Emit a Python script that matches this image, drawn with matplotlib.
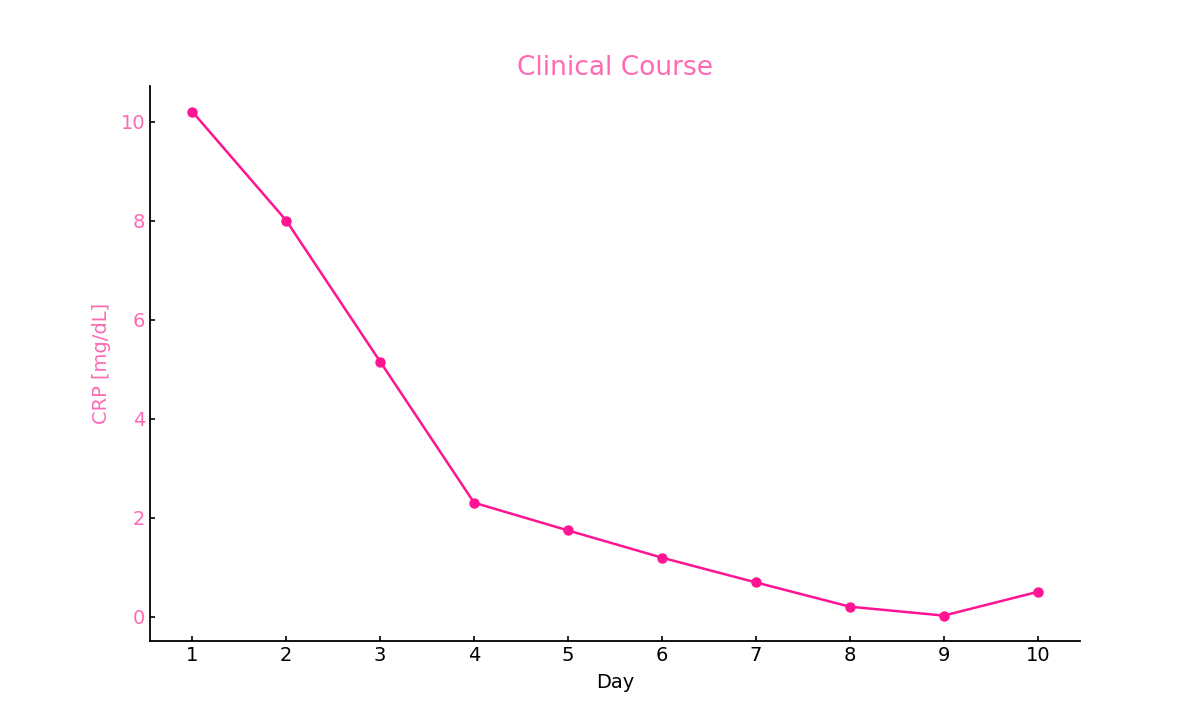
import matplotlib
matplotlib.use("Agg")
import matplotlib.pyplot as plt

# 日ごとのCRP値
days = [1, 2, 3, 4, 5, 6, 7, 8, 9, 10]
crp = [10.2, 8.0, 5.15, 2.3, 1.74, 1.19, 0.69, 0.2, 0.02, 0.5]

plt.rcParams['font.family'] = ['DejaVu Sans']
plt.rcParams['font.size'] = 14

fig, ax = plt.subplots(figsize=(12, 7.2), dpi=100)
ax.plot(days, crp, color='deeppink', marker='o', markersize=6.5, linewidth=1.8)

ax.set_title('Clinical Course', color='hotpink', fontsize=19, pad=8)
ax.set_xlabel('Day', color='black', labelpad=6)
ax.set_ylabel('CRP [mg/dL]', color='hotpink', labelpad=7)
ax.set_xticks(days)
ax.set_yticks([0, 2, 4, 6, 8, 10])
ax.tick_params(axis='y', colors='black', labelcolor='hotpink', direction='in', width=1.2)
ax.tick_params(axis='x', direction='in', width=1.2)

ax.spines['top'].set_visible(False)
ax.spines['right'].set_visible(False)
ax.spines['left'].set_linewidth(1.3)
ax.spines['bottom'].set_linewidth(1.3)

plt.savefig('out.png')
